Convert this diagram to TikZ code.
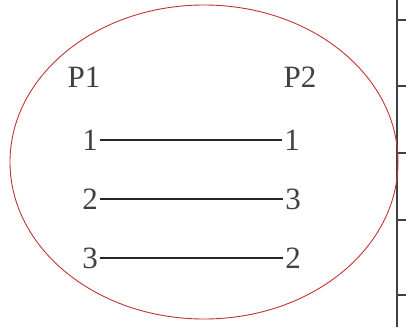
\documentclass[tikz,border=0pt]{standalone}
\usepackage{fontspec}
\setmainfont{Liberation Serif}
\begin{document}
\begin{tikzpicture}[x=1pt,y=-1pt,
    lbl/.style={inner sep=2pt, font=\fontsize{31}{33}\selectfont, text=black!75},
    lien/.style={line width=1.3pt, black!85}]
    \useasboundingbox (0,0) rectangle (406,327);
    % Cadre du tableau (bord droit)
    \draw[line width=1.1pt, black!75] (397,0) -- (397,327);
    \foreach \y in {20, 86, 153, 220, 295} {
        \draw[line width=1.1pt, black!75] (397,\y) -- (406,\y);
    }
    % Ellipse rouge
    \draw[line width=0.9pt, red!70!black!80] (204,162) ellipse (194 and 157);
    % Titres
    \node[lbl] (p1) at (84,77) {P1};
    \node[lbl] (p2) at (300,77) {P2};
    % Colonne P1
    \node[lbl] (a1) at (90,140) {1};
    \node[lbl] (a2) at (90,199) {2};
    \node[lbl] (a3) at (90,258) {3};
    % Colonne P2
    \node[lbl] (b1) at (292,140) {1};
    \node[lbl] (b3) at (293,199) {3};
    \node[lbl] (b2) at (293,258) {2};
    % Liaisons
    \draw[lien] (a1.east) -- (b1.west);
    \draw[lien] (a2.east) -- (b3.west);
    \draw[lien] (a3.east) -- (b2.west);
\end{tikzpicture}
\end{document}
